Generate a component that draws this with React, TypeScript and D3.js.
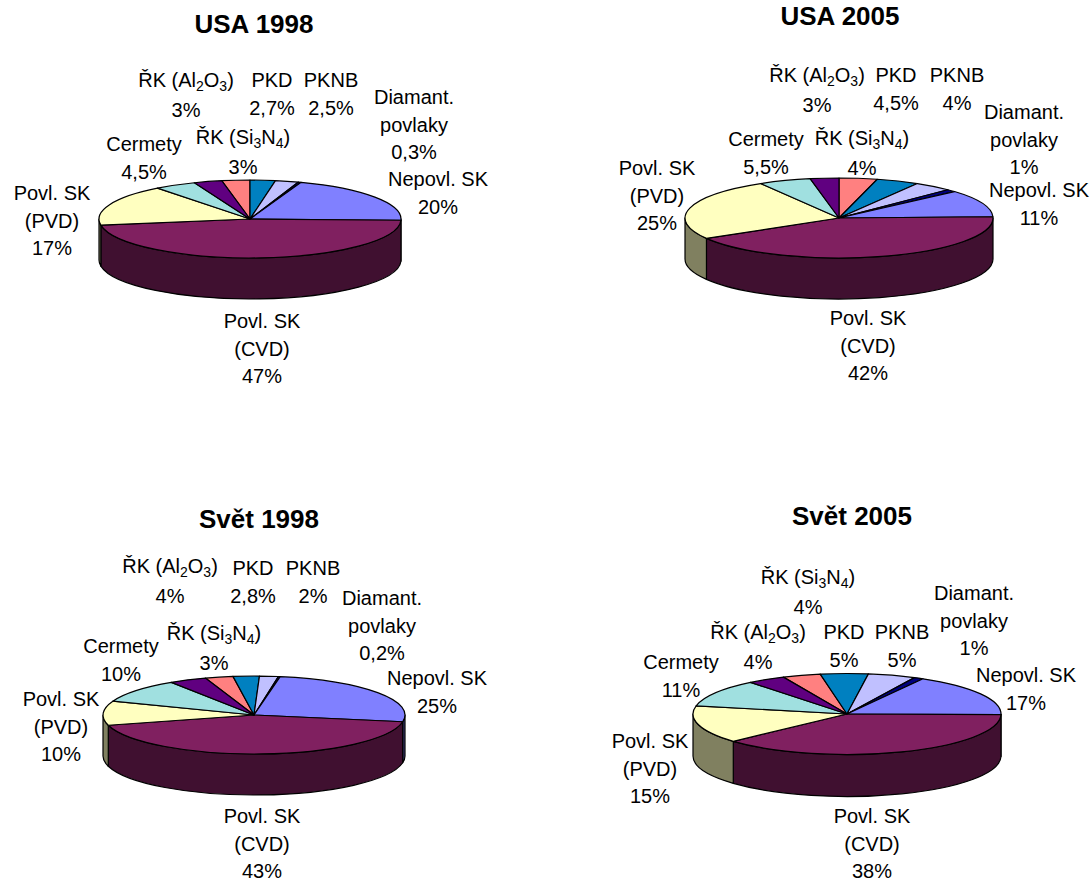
import React from "react";
import * as d3 from "d3";

// Slice order, clockwise from the first slice. "_" marks a subscript digit.
const categories = [
  "ŘK (Si_3N_4)",
  "PKD",
  "PKNB",
  "Diamant.|povlaky",
  "Nepovl. SK",
  "Povl. SK|(CVD)",
  "Povl. SK|(PVD)",
  "Cermety",
  "ŘK (Al_2O_3)",
];
const sliceColors = ["#FF8080", "#0080C0", "#C0C0FF", "#000080", "#8080FF", "#802060", "#FFFFC0", "#A0E0E0", "#600080"];

const usa1998 = [3, 2.7, 2.5, 0.3, 20, 47, 17, 4.5, 3];
const usa2005 = [4, 4.5, 4, 1, 11, 42, 25, 5.5, 3];
const svet1998 = [3, 2.8, 2, 0.2, 25, 43, 10, 10, 4];
const svet2005 = [4, 5, 5, 1, 17, 38, 15, 11, 4];

// Geometry of each 3-D disc and where its text sits; label anchors follow category order.
const charts = [
  {
    title: "USA 1998", titleX: 254, titleY: 33, values: usa1998,
    cx: 250, cy: 219, rx: 151, ry: 39, depth: 41, startDeg: -10.8,
    anchors: [[243, 144], [272, 87], [331, 87], [414, 104], [438, 186], [262, 328], [52, 200], [144, 151], [186, 87]],
  },
  {
    title: "USA 2005", titleX: 840, titleY: 25, values: usa2005,
    cx: 839, cy: 218, rx: 154, ry: 40, depth: 41, startDeg: 0,
    anchors: [[862, 145], [896, 82], [957, 82], [1024, 119], [1039, 197], [868, 325], [657, 175], [766, 146], [817, 82]],
  },
  {
    title: "Svět 1998", titleX: 259, titleY: 528, values: svet1998,
    cx: 254, cy: 715, rx: 151, ry: 39, depth: 41, startDeg: -18.8,
    anchors: [[214, 640], [253, 575], [313, 575], [382, 605], [437, 685], [262, 823], [61, 706], [121, 653], [170, 573]],
  },
  {
    title: "Svět 2005", titleX: 852, titleY: 525, values: svet2005,
    cx: 847, cy: 714, rx: 154, ry: 40.5, depth: 42, startDeg: -24.4,
    anchors: [[808, 584], [844, 639], [902, 639], [974, 600], [1026, 682], [872, 823], [650, 748], [681, 669], [758, 639]],
  },
];

const FONT = "'Liberation Sans', Arial, sans-serif";
const LINE_GAP = 27.5;
const SUB_LINE_GAP = 30;
const FRONT_START = Math.PI / 2;
const FRONT_END = (3 * Math.PI) / 2;

const formatPercent = (v: number) => `${String(v).replace(".", ",")}%`;
const halfTone = (hex: string) => {
  const c = d3.rgb(hex);
  return d3.rgb(c.r / 2, c.g / 2, c.b / 2).formatHex();
};

// Text line whose "_d" pairs become lowered, smaller digits.
function LineText({ text, x, y }: { text: string; x: number; y: number }) {
  const parts = text.split(/(_\d)/).filter(Boolean);
  let lowered = false;
  return (
    <text x={x} y={y} textAnchor="middle" fontFamily={FONT} fontSize={20} fill="#000">
      {parts.map((p, i) => {
        const isSub = p.startsWith("_");
        const dy = isSub ? 4 : lowered ? -4 : 0;
        lowered = isSub;
        return (
          <tspan key={i} dy={dy} fontSize={isSub ? 14 : 20}>
            {isSub ? p.slice(1) : p}
          </tspan>
        );
      })}
    </text>
  );
}

function Pie3D({ chart }: { chart: (typeof charts)[number] }) {
  const { cx, cy, rx, ry, depth, values, startDeg, anchors } = chart;
  const start = (startDeg * Math.PI) / 180;
  const slices = d3
    .pie<number>()
    .sort(null)
    .startAngle(start)
    .endAngle(start + 2 * Math.PI)(values);
  const arc = d3.arc<d3.PieArcDatum<number>>().innerRadius(0).outerRadius(rx);
  const px = (a: number) => cx + rx * Math.sin(a);
  const py = (a: number) => cy - ry * Math.cos(a);

  // Rim wall of a slice: the part of its arc lying on the near half of the disc.
  const wall = (a0: number, a1: number) => {
    const t0 = Math.max(a0, FRONT_START);
    const t1 = Math.min(a1, FRONT_END);
    if (t1 <= t0) return null;
    return (
      `M${px(t0)},${py(t0)}A${rx},${ry} 0 0 1 ${px(t1)},${py(t1)}` +
      `L${px(t1)},${py(t1) + depth}A${rx},${ry} 0 0 0 ${px(t0)},${py(t0) + depth}Z`
    );
  };

  return (
    <g>
      {slices.map((s, i) => {
        const d = wall(s.startAngle, s.endAngle);
        return d ? <path key={i} d={d} fill={halfTone(sliceColors[i])} stroke="#000" strokeWidth={1.2} strokeLinejoin="round" /> : null;
      })}
      <g transform={`translate(${cx},${cy}) scale(1,${ry / rx})`}>
        {slices.map((s, i) => (
          <path
            key={i}
            d={arc(s) as string}
            fill={sliceColors[i]}
            stroke="#000"
            strokeWidth={1.2}
            strokeLinejoin="round"
            vectorEffect="non-scaling-stroke"
          />
        ))}
      </g>
      <text x={chart.titleX} y={chart.titleY} textAnchor="middle" fontFamily={FONT} fontWeight="bold" fontSize={26}>
        {chart.title}
      </text>
      {categories.map((name, i) => {
        const nameLines = name.split("|");
        const [x, y] = anchors[i];
        const gap = name.includes("_") ? SUB_LINE_GAP : LINE_GAP;
        return (
          <g key={name}>
            {nameLines.map((line, j) => (
              <LineText key={j} text={line} x={x} y={y + j * LINE_GAP} />
            ))}
            <LineText text={formatPercent(values[i])} x={x} y={y + (nameLines.length - 1) * LINE_GAP + gap} />
          </g>
        );
      })}
    </g>
  );
}

export default function App() {
  return (
    <svg
      width={1091}
      height={881}
      viewBox="0 0 1091 881"
      style={{ position: "absolute", left: 0, top: 0, display: "block", background: "#fff" }}
    >
      {charts.map((c) => (
        <Pie3D key={c.title} chart={c} />
      ))}
    </svg>
  );
}
